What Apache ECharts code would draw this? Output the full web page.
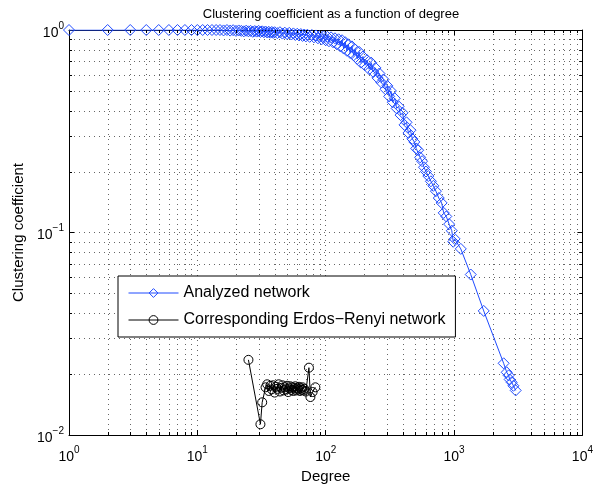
<!DOCTYPE html>
<html><head><meta charset="utf-8">
<script src="https://cdn.jsdelivr.net/npm/echarts@6/dist/echarts.min.js"></script>
<style>html,body{margin:0;padding:0;background:#fff}#c{width:596px;height:489px}</style>
</head><body><div id="c"></div>
<script>
// ---- data ----
const analyzedDegree = [1,2,3,4,5,6,7,8,9,10,11,12,13,14,15,16,17,18,19,20,21,22,23,24,25,26,27,28,29,30,31,32,33,34,35,36,37,38,39,40,42,44,46,48,50,52,54,56,58,60,62,64,66,68,70,72,75,78,81,84,87,90,93,96,100,103,106,110,114,118,122,126,130,134,138,142,146,150,155,160,165,170,176,182,188,195,202,210,218,226,235,244,253,262,272,282,292,302,312,322,333,345,357,370,383,397,411,426,441,457,473,490,507,525,544,563,583,604,630,660,690,722,760,800,830,870,915,960,985,1010,1128,1349,1702,2433,2570,2662,2710,2810,2900,3020];
const analyzedCC = [1,1,1,1,1,1,1,1,1,1,1,1,1,1,1,0.995,1,0.993,0.998,0.99,0.995,0.99,0.985,0.992,0.985,0.99,0.98,0.988,0.982,0.99,0.978,0.985,0.975,0.983,0.972,0.98,0.97,0.978,0.968,0.975,0.965,0.975,0.96,0.97,0.955,0.968,0.95,0.962,0.945,0.958,0.94,0.955,0.935,0.95,0.93,0.948,0.925,0.945,0.92,0.94,0.91,0.935,0.9,0.93,0.89,0.925,0.88,0.92,0.87,0.91,0.85,0.9,0.83,0.89,0.81,0.87,0.79,0.85,0.77,0.83,0.75,0.8,0.72,0.78,0.69,0.74,0.67,0.71,0.64,0.69,0.62,0.65,0.58,0.61,0.55,0.57,0.51,0.53,0.47,0.5,0.44,0.46,0.41,0.42,0.38,0.39,0.34,0.35,0.31,0.32,0.29,0.28,0.26,0.255,0.235,0.225,0.21,0.2,0.19,0.179,0.17,0.16,0.148,0.14,0.125,0.12,0.11,0.102,0.09,0.093,0.083,0.062,0.041,0.0226,0.0204,0.0197,0.0188,0.0182,0.0175,0.0166];
const erDegree = [25,31,32,34,35,36,37,38,39,40,41,42,43,44,45,46,47,48,49,50,51,52,53,54,55,56,57,58,59,60,61,62,63,64,65,66,67,68,70,74,76,79,83];
const erCC = [0.0235,0.0113,0.0145,0.0172,0.0178,0.0165,0.0175,0.0168,0.0176,0.0162,0.0173,0.0169,0.0178,0.0164,0.0171,0.0176,0.0166,0.0172,0.0168,0.0175,0.0163,0.017,0.0174,0.0167,0.0172,0.0165,0.017,0.0174,0.0166,0.0171,0.0168,0.0173,0.0165,0.017,0.0167,0.0172,0.0166,0.0169,0.0164,0.0215,0.0154,0.0163,0.0172];
const seriesNames = ['Analyzed network', 'Corresponding Erdos\u2212Renyi network'];
const chartTitle = 'Clustering coefficient as a function of degree';
const xName = 'Degree';
const yName = 'Clustering coefficient';
const xRange = [1, 10000];
const yRange = [0.01, 1];

const FONT = 'Liberation Sans, Arial, Helvetica, sans-serif';
const BLUE = '#1f4bff';
const GRID_DOT = '#666';
const G = {left: 69, right: 12, top: 30, bottom: 49};

function supLabel(v) {
  const e = Math.round(Math.log10(v));
  const s = e < 0 ? '\u2212' + (-e) : String(e);
  return '{b|10}{s|' + s + '}';
}
const rich = {
  b: {fontSize: 14, fontFamily: FONT, color: '#000', verticalAlign: 'bottom', lineHeight: 20},
  s: {fontSize: 10, fontFamily: FONT, color: '#000', verticalAlign: 'bottom', lineHeight: 20, padding: [0, 0, 9, 0]}
};

const analyzed = analyzedDegree.map((k, i) => [k, analyzedCC[i]]);
const er = erDegree.map((k, i) => [k, erCC[i]]);

const chart = echarts.init(document.getElementById('c'), null, {renderer: 'canvas'});
const boxAxis = {
  axisLine: {show: true, onZero: false, lineStyle: {color: '#000', width: 1}},
  axisTick: {show: true, inside: true, length: 5, lineStyle: {color: '#000', width: 1}},
};
chart.setOption({
  animation: false,
  backgroundColor: '#fff',
  title: {
    text: chartTitle, left: 326, top: 3, textAlign: 'center',
    textStyle: {fontSize: 13, fontWeight: 'normal', fontFamily: FONT, color: '#000'}
  },
  legend: {
    orient: 'vertical', left: 118, top: 276,
    backgroundColor: '#fff', borderColor: '#000', borderWidth: 1,
    padding: [9, 10, 9, 10], itemGap: 11, itemWidth: 50, itemHeight: 11,
    lineStyle: {width: 1},
    itemStyle: {borderWidth: 1},
    textStyle: {fontSize: 16, fontFamily: FONT, color: '#000'},
    data: seriesNames
  },
  grid: {left: G.left, right: G.right, top: G.top, bottom: G.bottom, containLabel: false},
  xAxis: [
    Object.assign({
      type: 'log', logBase: 10, min: xRange[0], max: xRange[1], position: 'bottom',
      axisLabel: {formatter: supLabel, rich: rich, margin: 9},
      splitLine: {show: true, lineStyle: {type: [1, 4], color: GRID_DOT, width: 1}},
      name: xName, nameLocation: 'middle', nameGap: 34,
      nameTextStyle: {fontSize: 15, fontFamily: FONT, color: '#000'}
    }, boxAxis),
    Object.assign({
      type: 'log', logBase: 10, min: xRange[0], max: xRange[1], position: 'top',
      axisLabel: {show: false}, splitLine: {show: false}
    }, boxAxis)
  ],
  yAxis: [
    Object.assign({
      type: 'log', logBase: 10, min: yRange[0], max: yRange[1], position: 'left',
      axisLabel: {formatter: supLabel, rich: rich, margin: 5},
      splitLine: {show: true, lineStyle: {type: [1, 4], color: GRID_DOT, width: 1}},
      name: yName, nameLocation: 'middle', nameGap: 43,
      nameTextStyle: {fontSize: 15, fontFamily: FONT, color: '#000'}
    }, boxAxis),
    Object.assign({
      type: 'log', logBase: 10, min: yRange[0], max: yRange[1], position: 'right',
      axisLabel: {show: false}, splitLine: {show: false}
    }, boxAxis)
  ],
  series: [
    {
      name: seriesNames[0], type: 'line', data: analyzed, z: 3,
      symbol: 'diamond', symbolSize: 11, showAllSymbol: true,
      lineStyle: {color: BLUE, width: 1},
      itemStyle: {color: 'rgba(255,255,255,0)', borderColor: BLUE, borderWidth: 1}
    },
    {
      name: seriesNames[1], type: 'line', data: er, z: 4,
      symbol: 'circle', symbolSize: 9, showAllSymbol: true,
      lineStyle: {color: '#000', width: 1},
      itemStyle: {color: 'rgba(255,255,255,0)', borderColor: '#000', borderWidth: 1}
    }
  ]
});

// minor (log) grid lines and minor ticks, positioned via the axis scales
function addMinor() {
  const els = [];
  const x0 = chart.convertToPixel({xAxisIndex: 0}, xRange[0]);
  const x1 = chart.convertToPixel({xAxisIndex: 0}, xRange[1]);
  const y0 = chart.convertToPixel({yAxisIndex: 0}, yRange[0]);
  const y1 = chart.convertToPixel({yAxisIndex: 0}, yRange[1]);
  const dot = {stroke: GRID_DOT, lineWidth: 1, lineDash: [1, 4]};
  const tk = {stroke: '#000', lineWidth: 1};
  for (let d = Math.log10(xRange[0]); d < Math.log10(xRange[1]); d++) {
    for (let m = 2; m <= 9; m++) {
      const p = Math.round(chart.convertToPixel({xAxisIndex: 0}, m * Math.pow(10, d))) + 0.5;
      els.push({type: 'line', silent: true, z: 0, shape: {x1: p, y1: y0, x2: p, y2: y1}, style: dot});
      els.push({type: 'line', silent: true, z: 5, shape: {x1: p, y1: y0, x2: p, y2: y0 - 3}, style: tk});
      els.push({type: 'line', silent: true, z: 5, shape: {x1: p, y1: y1, x2: p, y2: y1 + 3}, style: tk});
    }
  }
  for (let d = Math.log10(yRange[0]); d < Math.log10(yRange[1]) - 1e-9; d++) {
    for (let m = 2; m <= 9; m++) {
      const p = Math.round(chart.convertToPixel({yAxisIndex: 0}, m * Math.pow(10, Math.round(d)))) + 0.5;
      els.push({type: 'line', silent: true, z: 0, shape: {x1: x0, y1: p, x2: x1, y2: p}, style: dot});
      els.push({type: 'line', silent: true, z: 5, shape: {x1: x0, y1: p, x2: x0 + 3, y2: p}, style: tk});
      els.push({type: 'line', silent: true, z: 5, shape: {x1: x1, y1: p, x2: x1 - 3, y2: p}, style: tk});
    }
  }
  chart.setOption({graphic: els});
}
addMinor();
</script></body></html>
